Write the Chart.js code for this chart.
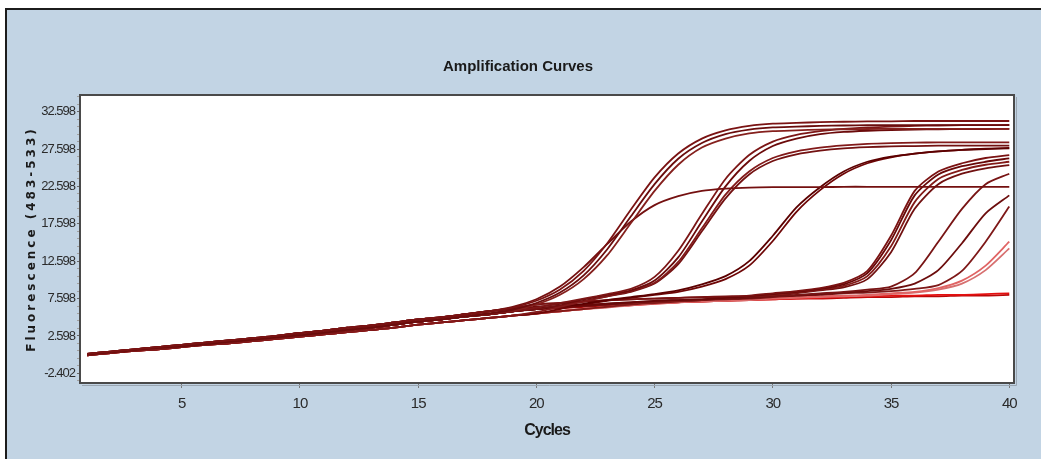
<!DOCTYPE html>
<html>
<head>
<meta charset="utf-8">
<title>Amplification Curves</title>
<script src="https://cdn.jsdelivr.net/npm/chart.js@4.4.1/dist/chart.umd.min.js"></script>
<style>
    html, body {
        margin: 0;
        padding: 0;
        background: #ffffff;
        overflow: hidden;
    }
    .panel {
        position: absolute;
        left: 5px;
        top: 8px;
        width: 1100px;
        height: 500px;
        background: #c2d4e4;
        border-top: 2px solid #1c1c1c;
        border-left: 2px solid #1c1c1c;
    }
    .wrap {
        position: absolute;
        left: 0;
        top: 0;
        width: 1041px;
        height: 459px;
    }
</style>
</head>
<body>
<div class="panel"></div>
<div class="wrap"><canvas id="ampChart" width="1041" height="459"></canvas></div>
<script>
// ========================================
// Amplification curve data
// ========================================

const cycles = [1, 2, 3, 4, 5, 6, 7, 8, 9, 10, 11, 12, 13, 14, 15, 16, 17, 18, 19, 20,
    21, 22, 23, 24, 25, 26, 27, 28, 29, 30, 31, 32, 33, 34, 35, 36, 37, 38, 39, 40];

const yTickLabels = ['-2.402', '2.598', '7.598', '12.598', '17.598', '22.598', '27.598', '32.598'];
const xTickLabels = ['5', '10', '15', '20', '25', '30', '35', '40'];

// early risers
const wellA1 = [0.2, 0.5, 0.8, 1.1, 1.4, 1.7, 2.0, 2.3, 2.6, 3.0, 3.3, 3.7, 4.0, 4.4, 4.8, 5.1, 5.5, 5.9, 6.4, 7.3,
    8.8, 11.3, 15.0, 19.5, 23.8, 27.0, 29.0, 30.1, 30.7, 31.0, 31.1, 31.2, 31.25, 31.3, 31.3, 31.35, 31.35, 31.35, 31.35, 31.35];
const wellA2 = [0.1, 0.4, 0.7, 1.0, 1.2, 1.5, 1.8, 2.1, 2.4, 2.7, 3.0, 3.4, 3.7, 4.1, 4.5, 4.8, 5.2, 5.6, 6.1, 7.0,
    8.4, 10.7, 14.2, 18.6, 22.9, 26.3, 28.4, 29.6, 30.2, 30.5, 30.6, 30.7, 30.75, 30.8, 30.8, 30.8, 30.8, 30.8, 30.8, 30.8];
const wellA3 = [0.1, 0.4, 0.7, 1.0, 1.2, 1.5, 1.8, 2.1, 2.4, 2.7, 3.0, 3.4, 3.7, 4.1, 4.5, 4.8, 5.2, 5.6, 6.0, 6.8,
    8.1, 10.2, 13.4, 17.7, 22.0, 25.5, 27.8, 29.0, 29.7, 30.0, 30.1, 30.2, 30.25, 30.28, 30.3, 30.3, 30.3, 30.3, 30.3, 30.3];
const wellL1 = [0.2, 0.5, 0.8, 1.1, 1.4, 1.7, 2.0, 2.3, 2.6, 3.0, 3.3, 3.7, 4.0, 4.4, 4.8, 5.1, 5.5, 5.9, 6.5, 7.5,
    9.2, 11.8, 14.9, 17.9, 20.1, 21.3, 22.0, 22.3, 22.45, 22.5, 22.5, 22.5, 22.55, 22.55, 22.55, 22.55, 22.55, 22.55, 22.55, 22.55];

// second group
const wellB1 = [0.1, 0.4, 0.7, 1.0, 1.2, 1.5, 1.8, 2.1, 2.4, 2.7, 3.0, 3.4, 3.7, 4.1, 4.5, 4.8, 5.2, 5.5, 5.9, 6.4,
    7.0, 7.6, 8.2, 8.9, 10.5, 14.0, 18.9, 23.6, 26.8, 28.6, 29.5, 30.0, 30.3, 30.5, 30.6, 30.7, 30.75, 30.8, 30.8, 30.82];
const wellB2 = [0.2, 0.5, 0.8, 1.1, 1.4, 1.7, 2.0, 2.3, 2.6, 3.0, 3.3, 3.7, 4.0, 4.4, 4.8, 5.1, 5.5, 5.9, 6.2, 6.5,
    6.9, 7.5, 8.1, 8.7, 10.0, 13.1, 17.9, 22.6, 26.0, 28.0, 29.0, 29.6, 29.9, 30.05, 30.15, 30.2, 30.25, 30.28, 30.28, 30.3];
const wellB3 = [0.0, 0.3, 0.6, 0.8, 1.1, 1.4, 1.6, 1.9, 2.2, 2.5, 2.8, 3.1, 3.4, 3.7, 4.1, 4.4, 4.7, 5.0, 5.3, 5.8,
    6.5, 7.2, 7.9, 8.6, 9.7, 12.5, 17.0, 21.5, 24.6, 26.4, 27.3, 27.8, 28.1, 28.3, 28.4, 28.45, 28.5, 28.5, 28.5, 28.5];
const wellB4 = [0.1, 0.4, 0.7, 1.0, 1.2, 1.5, 1.8, 2.1, 2.4, 2.7, 3.0, 3.4, 3.7, 4.1, 4.5, 4.8, 5.2, 5.5, 5.9, 6.2,
    6.7, 7.3, 7.9, 8.5, 9.6, 12.2, 16.6, 21.0, 24.2, 26.0, 26.9, 27.4, 27.7, 27.85, 27.95, 28.0, 28.05, 28.05, 28.05, 28.05];

// third group
const wellC1 = [0.1, 0.4, 0.7, 1.0, 1.2, 1.5, 1.8, 2.1, 2.4, 2.7, 3.0, 3.4, 3.7, 4.1, 4.5, 4.8, 5.2, 5.5, 5.9, 6.2,
    6.6, 6.9, 7.4, 7.8, 8.2, 8.7, 9.5, 10.6, 12.6, 16.0, 19.8, 22.5, 24.6, 25.9, 26.6, 27.0, 27.3, 27.5, 27.6, 27.7];
const wellC2 = [0.0, 0.3, 0.6, 0.8, 1.1, 1.4, 1.6, 1.9, 2.2, 2.5, 2.8, 3.1, 3.4, 3.7, 4.1, 4.4, 4.7, 5.0, 5.3, 5.6,
    6.2, 6.8, 7.3, 7.7, 8.1, 8.5, 9.2, 10.2, 12.0, 15.3, 19.2, 22.1, 24.3, 25.7, 26.5, 27.0, 27.3, 27.5, 27.65, 27.75];

// fourth group
const wellD1 = [0.2, 0.5, 0.8, 1.1, 1.4, 1.7, 2.0, 2.3, 2.6, 3.0, 3.3, 3.7, 4.0, 4.4, 4.8, 5.1, 5.5, 5.9, 6.3, 6.8,
    7.0, 7.2, 7.4, 7.5, 7.6, 7.7, 7.8, 7.9, 8.0, 8.3, 8.6, 9.0, 9.7, 11.3, 16.0, 22.0, 24.6, 25.7, 26.4, 26.8];
const wellD2 = [0.1, 0.4, 0.7, 1.0, 1.2, 1.5, 1.8, 2.1, 2.4, 2.7, 3.0, 3.4, 3.7, 4.1, 4.5, 4.8, 5.2, 5.5, 5.9, 6.2,
    6.5, 6.7, 6.9, 7.1, 7.3, 7.4, 7.5, 7.7, 7.9, 8.2, 8.5, 8.9, 9.5, 11.0, 15.4, 21.4, 24.2, 25.3, 25.9, 26.36];
const wellD3 = [0.0, 0.3, 0.6, 0.8, 1.1, 1.4, 1.6, 1.9, 2.2, 2.5, 2.8, 3.1, 3.4, 3.7, 4.1, 4.4, 4.7, 5.0, 5.3, 5.6,
    5.9, 6.2, 6.5, 6.8, 7.0, 7.2, 7.4, 7.7, 7.9, 8.1, 8.4, 8.8, 9.3, 10.6, 14.6, 20.5, 23.6, 24.8, 25.5, 25.9];
const wellD4 = [0.1, 0.4, 0.7, 1.0, 1.2, 1.5, 1.8, 2.1, 2.4, 2.7, 3.0, 3.4, 3.7, 4.1, 4.5, 4.8, 5.2, 5.5, 5.9, 6.2,
    6.4, 6.6, 6.8, 7.0, 7.2, 7.3, 7.4, 7.6, 7.8, 8.0, 8.3, 8.7, 9.1, 10.2, 13.8, 19.6, 22.9, 24.3, 25.0, 25.46];

// late risers
const wellE1 = [0.2, 0.5, 0.8, 1.1, 1.4, 1.7, 2.0, 2.3, 2.6, 3.0, 3.3, 3.7, 4.0, 4.4, 4.8, 5.1, 5.5, 5.9, 6.3, 6.8,
    7.0, 7.2, 7.4, 7.5, 7.6, 7.7, 7.8, 7.8, 7.9, 7.9, 8.1, 8.3, 8.5, 8.8, 9.2, 11.0, 15.2, 19.6, 22.9, 24.3];
const wellE2 = [0.1, 0.4, 0.7, 1.0, 1.2, 1.5, 1.8, 2.1, 2.4, 2.7, 3.0, 3.4, 3.7, 4.1, 4.5, 4.8, 5.2, 5.5, 5.9, 6.2,
    6.5, 6.7, 6.9, 7.1, 7.3, 7.4, 7.5, 7.6, 7.7, 7.9, 8.0, 8.2, 8.4, 8.6, 8.9, 9.6, 11.4, 15.0, 19.0, 21.4];
const wellE3 = [0.1, 0.4, 0.7, 1.0, 1.2, 1.5, 1.8, 2.1, 2.4, 2.7, 3.0, 3.4, 3.7, 4.1, 4.5, 4.8, 5.2, 5.5, 5.9, 6.2,
    6.4, 6.6, 6.8, 7.0, 7.2, 7.3, 7.4, 7.5, 7.6, 7.8, 8.0, 8.1, 8.3, 8.4, 8.6, 8.9, 9.4, 11.3, 15.2, 19.9];
const wellF1 = [0.0, 0.3, 0.6, 0.8, 1.1, 1.4, 1.6, 1.9, 2.2, 2.5, 2.8, 3.1, 3.4, 3.7, 4.1, 4.4, 4.7, 5.0, 5.3, 5.6,
    5.9, 6.2, 6.5, 6.8, 7.0, 7.2, 7.3, 7.4, 7.5, 7.7, 7.8, 7.9, 8.0, 8.1, 8.3, 8.5, 9.0, 10.0, 12.0, 15.2];
const wellF2 = [0.0, 0.3, 0.6, 0.8, 1.1, 1.4, 1.6, 1.9, 2.2, 2.5, 2.8, 3.1, 3.4, 3.7, 4.1, 4.4, 4.7, 5.0, 5.3, 5.6,
    5.9, 6.2, 6.4, 6.7, 6.9, 7.1, 7.2, 7.3, 7.4, 7.6, 7.7, 7.8, 7.9, 8.0, 8.2, 8.4, 8.8, 9.6, 11.4, 14.3];

// no amplification
const wellG1 = [0.0, 0.3, 0.6, 0.8, 1.1, 1.4, 1.6, 1.9, 2.2, 2.5, 2.8, 3.1, 3.4, 3.7, 4.1, 4.4, 4.7, 5.0, 5.3, 5.6,
    5.9, 6.2, 6.5, 6.7, 6.9, 7.1, 7.2, 7.3, 7.4, 7.5, 7.6, 7.7, 7.8, 7.9, 8.0, 8.0, 8.1, 8.1, 8.2, 8.3];
const wellG2 = [0.1, 0.4, 0.7, 1.0, 1.2, 1.5, 1.8, 2.1, 2.4, 2.7, 3.0, 3.4, 3.7, 4.1, 4.5, 4.8, 5.2, 5.5, 5.9, 6.2,
    6.3, 6.5, 6.7, 6.9, 7.0, 7.1, 7.2, 7.3, 7.4, 7.5, 7.6, 7.6, 7.7, 7.8, 7.8, 7.9, 7.9, 8.0, 8.0, 8.1];

const wells = [
    { name: 'A1', values: wellA1, color: '#7a1313' },
    { name: 'A2', values: wellA2, color: '#6a0c0c' },
    { name: 'A3', values: wellA3, color: '#85201d' },
    { name: 'L1', values: wellL1, color: '#741010' },
    { name: 'B1', values: wellB1, color: '#7c1616' },
    { name: 'B2', values: wellB2, color: '#6b0a0a' },
    { name: 'B3', values: wellB3, color: '#821a1a' },
    { name: 'B4', values: wellB4, color: '#731111' },
    { name: 'C1', values: wellC1, color: '#5c0000' },
    { name: 'C2', values: wellC2, color: '#6e0606' },
    { name: 'D1', values: wellD1, color: '#7a1212' },
    { name: 'D2', values: wellD2, color: '#680808' },
    { name: 'D3', values: wellD3, color: '#831a18' },
    { name: 'D4', values: wellD4, color: '#701010' },
    { name: 'E1', values: wellE1, color: '#781414' },
    { name: 'E2', values: wellE2, color: '#6c0d0d' },
    { name: 'E3', values: wellE3, color: '#7e1818' },
    { name: 'F1', values: wellF1, color: '#e06464' },
    { name: 'F2', values: wellF2, color: '#d77070' },
    { name: 'G1', values: wellG1, color: '#e41010' },
    { name: 'G2', values: wellG2, color: '#b80808' }
];

// ========================================
// Plugins
// ========================================

// white plot area plus its framed border
const plotFrame = {
    id: 'plotFrame',
    beforeDatasetsDraw(chart) {
        const { ctx, chartArea } = chart;
        ctx.save();
        ctx.fillStyle = '#ffffff';
        ctx.fillRect(chartArea.left, chartArea.top, chartArea.right - chartArea.left, chartArea.bottom - chartArea.top);
        ctx.restore();
    },
    afterDraw(chart) {
        const { ctx, chartArea } = chart;
        const w = chartArea.right - chartArea.left;
        const h = chartArea.bottom - chartArea.top;
        ctx.save();
        // soft shadow on the right and bottom
        ctx.strokeStyle = '#9aa6b2';
        ctx.lineWidth = 1;
        ctx.beginPath();
        ctx.moveTo(chartArea.right + 2.5, chartArea.top + 2);
        ctx.lineTo(chartArea.right + 2.5, chartArea.bottom + 2.5);
        ctx.lineTo(chartArea.left + 2, chartArea.bottom + 2.5);
        ctx.stroke();
        ctx.strokeStyle = '#4a4a4a';
        ctx.lineWidth = 2;
        ctx.strokeRect(chartArea.left, chartArea.top, w, h);
        ctx.restore();
    }
};

// letter spacing for axis labels and titles (tight labels, wide y title)
const textSpacing = {
    id: 'textSpacing',
    beforeDraw(chart) {
        const spacing = {
            x: { labels: '-1px', title: '-1px' },
            y: { labels: '-1px', title: '3px' }
        };
        Object.keys(spacing).forEach(id => {
            const scale = chart.scales[id];
            if (!scale || scale._spaced) return;
            const drawLabels = scale.drawLabels;
            const drawTitle = scale.drawTitle;
            scale.drawLabels = function (area) {
                chart.ctx.save();
                chart.ctx.letterSpacing = spacing[id].labels;
                drawLabels.call(this, area);
                chart.ctx.restore();
            };
            scale.drawTitle = function () {
                chart.ctx.save();
                chart.ctx.letterSpacing = spacing[id].title;
                drawTitle.call(this);
                chart.ctx.restore();
            };
            scale._spaced = true;
        });
    }
};

// ========================================
// Chart
// ========================================

const sansFont = '"Liberation Sans", Arial, sans-serif';

function initChart() {
    const yMajor = yTickLabels.map(Number);
    const xMajor = xTickLabels.map(Number);

    new Chart(document.getElementById('ampChart'), {
        type: 'line',
        data: {
            datasets: wells.map(w => ({
                label: w.name,
                data: w.values.map((v, i) => ({ x: cycles[i], y: v })),
                borderColor: w.color,
                borderWidth: 1.8,
                pointRadius: 0,
                tension: 0.25,
                fill: false
            }))
        },
        plugins: [plotFrame, textSpacing],
        options: {
            responsive: false,
            animation: false,
            layout: {
                padding: { left: 22, right: 27, top: 0, bottom: 0 }
            },
            plugins: {
                legend: { display: false },
                tooltip: { enabled: false },
                title: {
                    display: true,
                    text: 'Amplification Curves',
                    color: '#1a1a1a',
                    font: { family: sansFont, size: 15, weight: 'bold' },
                    padding: { top: 58, bottom: 19 }
                }
            },
            scales: {
                x: {
                    type: 'linear',
                    min: 0.7,
                    max: 40.2,
                    afterBuildTicks: scale => {
                        scale.ticks = xMajor.map(v => ({ value: v }));
                    },
                    afterFit: scale => {
                        scale.height = 76;
                    },
                    grid: {
                        drawOnChartArea: false,
                        tickLength: 5,
                        tickColor: '#7a7a7a'
                    },
                    border: { display: false },
                    ticks: {
                        autoSkip: false,
                        maxRotation: 0,
                        padding: 7,
                        color: '#2a2a2a',
                        font: { family: sansFont, size: 15 },
                        callback: value => String(value)
                    },
                    title: {
                        display: true,
                        text: 'Cycles',
                        color: '#1a1a1a',
                        font: { family: sansFont, size: 16, weight: 'bold' },
                        padding: { top: 0, bottom: 19 }
                    }
                },
                y: {
                    min: -3.7,
                    max: 34.83,
                    afterBuildTicks: scale => {
                        // major ticks at the labels, minor ones every unit
                        const ticks = [];
                        for (let k = -1; k <= 37; k++) {
                            const v = yMajor[0] + k;
                            if (v >= scale.min && v <= scale.max) ticks.push({ value: v, major: k % 5 === 0 });
                        }
                        scale.ticks = ticks;
                    },
                    afterFit: scale => {
                        scale.width = 58;
                    },
                    grid: {
                        drawOnChartArea: false,
                        tickLength: 3,
                        tickColor: ctx => (ctx.tick && ctx.tick.major ? '#6a6a6a' : '#a0a0a0')
                    },
                    border: { display: false },
                    ticks: {
                        autoSkip: false,
                        padding: 2,
                        color: '#2a2a2a',
                        font: { family: sansFont, size: 13 },
                        callback: function (value, index, ticks) {
                            if (!ticks[index].major) return '';
                            const i = yMajor.findIndex(m => Math.abs(m - value) < 0.001);
                            return i >= 0 ? yTickLabels[i] : '';
                        }
                    },
                    title: {
                        display: true,
                        text: 'Fluorescence (483-533)',
                        color: '#1a1a1a',
                        font: { family: '"DejaVu Sans", sans-serif', size: 12, weight: 'bold' },
                        padding: { top: 3, bottom: 0 }
                    }
                }
            }
        }
    });
}

document.addEventListener('DOMContentLoaded', function () {
    initChart();
});
</script>
</body>
</html>
